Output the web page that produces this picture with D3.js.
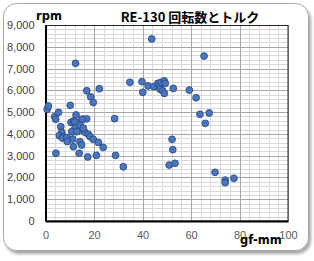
<!DOCTYPE html>
<html>
<head>
<meta charset="utf-8">
<script src="https://cdn.jsdelivr.net/npm/d3@7"></script>
<style>
  body { margin: 0; background: #fff; }
  svg { display: block; }
</style>
</head>
<body>
<svg id="chart" width="314" height="261"></svg>
<script>
// data (gf-mm, rpm) //
const torque = [
  0.7, 1.2, 3.8, 4.2, 5.4, 10.2, 12.4, 17, 18.6, 19.7, 22.2, 28.5,
  12.6, 15.3, 17, 10.5, 11.5, 13.8, 12.1, 15.1, 6.3, 12.2, 14.9, 10.8,
  12.9, 16.3, 6.7, 5.7, 7.3, 7.1, 8.7, 11.2, 17.7, 18.4, 19.7, 21.8,
  23.8, 9, 14.2, 14.9, 11.5, 4.3, 13.9, 17.4, 21, 28.9, 32.1, 14.2, 15.6,
  43.8, 65.4, 34.8, 39.8, 40.1, 42.3, 44.7, 46.3, 46.9, 47.6, 49, 49.4,
  47.2, 48.3, 49, 52.7, 59.3, 62.1, 63.7, 67.5, 65.9, 52.2, 52.5, 51,
  53.4, 69.9, 74.1, 74.1, 77.7
]
const rpm = [
  5130, 5280, 4790, 4670, 4990, 5310, 7240, 5980, 5700, 5440, 6075, 4700,
  4870, 4680, 4690, 4530, 4590, 4510, 4560, 4660, 4330, 4290, 4180, 4100,
  4100, 4070, 4070, 3915, 3870, 3800, 3830, 3765, 3980, 3870, 3750, 3610,
  3380, 3650, 3640, 3490, 3410, 3110, 3110, 2940, 3015, 3015, 2490, 4410, 4260,
  8360, 7575, 6370, 6400, 5910, 6200, 6170, 6320, 6200, 6370, 6430, 6320,
  6050, 5980, 5860, 6090, 6010, 5660, 4900, 4960, 4485, 3750, 3275, 2570,
  2650, 2235, 1880, 1760, 1960
]
const xTicks = [0, 20, 40, 60, 80, 100]
const yTicks = [0, 1000, 2000, 3000, 4000, 5000, 6000, 7000, 8000, 9000]

const points = torque.map((t, i) => ({ x: t, y: rpm[i] }))

const svg = d3.select('#chart')

// frame with shadow //
const defs = svg.append('defs')
const f = defs.append('filter').attr('id', 'shadow')
    .attr('x', '-10%').attr('y', '-10%').attr('width', '120%').attr('height', '120%')
f.append('feDropShadow')
    .attr('dx', 2).attr('dy', 3).attr('stdDeviation', 1.5)
    .attr('flood-color', '#000').attr('flood-opacity', 0.35)

svg.append('rect')
    .attr('x', 3.5).attr('y', 3.5)
    .attr('width', 305).attr('height', 247)
    .attr('rx', 13)
    .attr('fill', '#fff')
    .attr('stroke', '#a6a6a6')
    .attr('filter', 'url(#shadow)')

// scales //
const pLeft = 45.5, pRight = 288, pTop = 25, pBottom = 221

const x = d3.scaleLinear().domain([0, 100]).range([pLeft, pRight])
const y = d3.scaleLinear().domain([0, 9000]).range([pBottom, pTop])

// grid //
const grid = svg.append('g')
grid.append('g').selectAll('line')
    .data(d3.range(0, 101, 4))
    .join('line')
    .attr('x1', d => Math.round(x(d)) + 0.5).attr('x2', d => Math.round(x(d)) + 0.5)
    .attr('y1', pTop).attr('y2', pBottom)
    .attr('stroke', '#d9d9d9')
grid.append('g').selectAll('line')
    .data(d3.range(0, 9001, 200))
    .join('line')
    .attr('y1', d => Math.round(y(d)) + 0.5).attr('y2', d => Math.round(y(d)) + 0.5)
    .attr('x1', pLeft).attr('x2', pRight)
    .attr('stroke', '#d9d9d9')
grid.append('g').selectAll('line')
    .data(xTicks)
    .join('line')
    .attr('x1', d => Math.round(x(d)) + 0.5).attr('x2', d => Math.round(x(d)) + 0.5)
    .attr('y1', pTop).attr('y2', pBottom)
    .attr('stroke', '#a6a6a6')
grid.append('g').selectAll('line')
    .data(yTicks)
    .join('line')
    .attr('y1', d => Math.round(y(d)) + 0.5).attr('y2', d => Math.round(y(d)) + 0.5)
    .attr('x1', pLeft).attr('x2', pRight)
    .attr('stroke', '#a6a6a6')

// plot border //
svg.append('rect')
    .attr('x', pLeft).attr('y', pTop + 0.5)
    .attr('width', pRight - pLeft).attr('height', pBottom - pTop - 0.5)
    .attr('fill', 'none')
    .attr('stroke', '#262626')

// axes //
const xAxis = d3.axisBottom(x).tickValues(xTicks).tickSize(0).tickPadding(10)
svg.append('g')
    .attr('transform', `translate(0, ${pBottom})`)
    .call(xAxis)
    .call(g => g.select('.domain').attr('stroke', '#000').attr('stroke-width', 2))
    .call(g => g.selectAll('text')
        .attr('fill', '#595959')
        .style('font-family', 'Liberation Sans, Arial, sans-serif')
        .style('font-size', '11px'))

const yAxis = d3.axisLeft(y).tickValues(yTicks).tickSize(0).tickPadding(11)
    .tickFormat(d3.format(','))
svg.append('g')
    .attr('transform', `translate(${pLeft}, 0)`)
    .call(yAxis)
    .call(g => g.select('.domain').attr('stroke', '#000').attr('stroke-width', 2))
    .call(g => g.selectAll('text')
        .attr('fill', '#404040')
        .style('font-family', 'Liberation Sans, Arial, sans-serif')
        .style('font-size', '11px'))

// points //
svg.append('g')
    .selectAll('circle')
    .data(points)
    .join('circle')
    .attr('cx', d => x(d.x))
    .attr('cy', d => y(d.y))
    .attr('r', 3.4)
    .attr('fill', '#4a76c0')
    .attr('stroke', '#2b4a80')
    .attr('stroke-width', 0.9)

// titles //
svg.append('text')
    .attr('x', 190).attr('y', 22)
    .attr('text-anchor', 'middle')
    .style('font-family', 'Noto Sans CJK JP, sans-serif')
    .style('font-weight', 'bold')
    .style('font-size', '13px')
    .attr('fill', '#000')
    .text('RE-130 回転数とトルク')

svg.append('text')
    .attr('x', 36).attr('y', 20)
    .style('font-family', 'DejaVu Sans, sans-serif')
    .style('font-weight', 'bold')
    .style('font-size', '11.5px')
    .text('rpm')

svg.append('text')
    .attr('x', 240).attr('y', 244)
    .style('font-family', 'DejaVu Sans, sans-serif')
    .style('font-weight', 'bold')
    .style('font-size', '11.5px')
    .text('gf-mm')
</script>
</body>
</html>
